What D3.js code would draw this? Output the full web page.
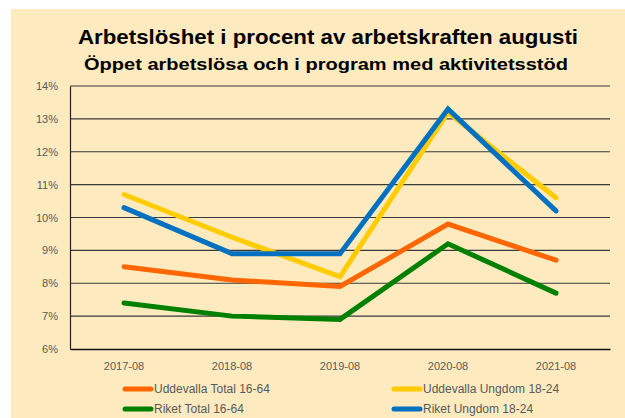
<!doctype html>
<html>
  <head>
    <script src="https://cdnjs.cloudflare.com/ajax/libs/d3/7.8.5/d3.min.js"></script>
    <style>
      body { margin: 0; background: #fff; }
      text { font-family: "Liberation Sans", Arial, sans-serif; }
    </style>
  </head>
  <body>
    <svg width="625" height="418"></svg>
    <script>
        // data
        var periods = ["2017-08", "2018-08", "2019-08", "2020-08", "2021-08"];
        var uddevallaTotal = [8.5, 8.1, 7.9, 9.8, 8.7];
        var uddevallaUngdom = [10.7, 9.4, 8.2, 13.2, 10.6];
        var riketTotal = [7.4, 7.0, 6.9, 9.2, 7.7];
        var riketUngdom = [10.3, 8.9, 8.9, 13.3, 10.2];
        var yTicks = [6, 7, 8, 9, 10, 11, 12, 13, 14];

        var series = [
            {name: "Uddevalla Total 16-64", values: uddevallaTotal, color: "#FF6600"},
            {name: "Uddevalla Ungdom 18-24", values: uddevallaUngdom, color: "#FFCC00"},
            {name: "Riket Total 16-64", values: riketTotal, color: "#008000"},
            {name: "Riket Ungdom 18-24", values: riketUngdom, color: "#0070C0"}
        ];

        var svg = d3.select("svg");
        var plotLeft = 70, plotRight = 610, plotTop = 86, plotBottom = 349;

        svg.append("rect")
            .attr("x", 11).attr("y", 9)
            .attr("width", 614).attr("height", 409)
            .attr("fill", "#FDEBBF");

        svg.append("text")
            .attr("x", 328).attr("y", 44)
            .attr("text-anchor", "middle")
            .attr("font-size", 21).attr("font-weight", "bold")
            .attr("textLength", 500).attr("lengthAdjust", "spacingAndGlyphs")
            .text("Arbetslöshet i procent av arbetskraften augusti");
        svg.append("text")
            .attr("x", 326).attr("y", 70)
            .attr("text-anchor", "middle")
            .attr("font-size", 17).attr("font-weight", "bold")
            .attr("textLength", 484).attr("lengthAdjust", "spacingAndGlyphs")
            .text("Öppet arbetslösa och i program med aktivitetsstöd");

        var x = d3.scaleBand().domain(periods).range([plotLeft, plotRight]);
        var y = d3.scaleLinear().domain([6, 14]).range([plotBottom, plotTop]);
        var cx = d => x(d) + x.bandwidth() / 2;

        // gridlines
        svg.append("g").selectAll("line")
            .data(yTicks.slice(1))
            .enter().append("line")
                .attr("x1", plotLeft).attr("x2", plotRight)
                .attr("y1", d => y(d)).attr("y2", d => y(d))
                .attr("stroke", "#3a3a3a").attr("stroke-width", 1.2);

        var yAxis = svg.append("g")
            .attr("transform", "translate(" + plotLeft + ",0)")
            .call(d3.axisLeft(y).tickValues(yTicks).tickSize(0).tickPadding(12).tickFormat(d => d + "%"));
        yAxis.select(".domain").attr("stroke", "#222").attr("stroke-width", 1.2);
        yAxis.selectAll("text").attr("font-size", 11).attr("fill", "#595959")
            .attr("font-family", "Liberation Sans, Arial, sans-serif");

        var xAxis = svg.append("g")
            .attr("transform", "translate(0," + plotBottom + ")")
            .call(d3.axisBottom(x).tickSize(0).tickPadding(13));
        xAxis.select(".domain").attr("stroke", "#111").attr("stroke-width", 1.5);
        xAxis.selectAll("text").attr("font-size", 11).attr("fill", "#595959")
            .attr("font-family", "Liberation Sans, Arial, sans-serif");

        var line = d3.line()
            .x((d, i) => cx(periods[i]))
            .y(d => y(d));

        // draw order: orange, green, yellow, blue on top
        [0, 2, 1, 3].forEach(function(k) {
            svg.append("path")
                .attr("d", line(series[k].values))
                .attr("fill", "none")
                .attr("stroke", series[k].color)
                .attr("stroke-width", 5)
                .attr("stroke-linecap", "round")
                .attr("stroke-linejoin", "miter");
        });

        // legend
        var legendPos = [[123, 389], [392, 389], [123, 409], [392, 409]];
        series.forEach(function(s, i) {
            var p = legendPos[i];
            var g = svg.append("g").attr("transform", "translate(" + p[0] + "," + p[1] + ")");
            g.append("line")
                .attr("x1", 2).attr("x2", 28)
                .attr("stroke", s.color).attr("stroke-width", 5)
                .attr("stroke-linecap", "round");
            g.append("text")
                .attr("x", 31).attr("y", 4)
                .attr("font-size", 12).attr("fill", "#595959")
                .text(s.name);
        });
    </script>
  </body>
</html>
